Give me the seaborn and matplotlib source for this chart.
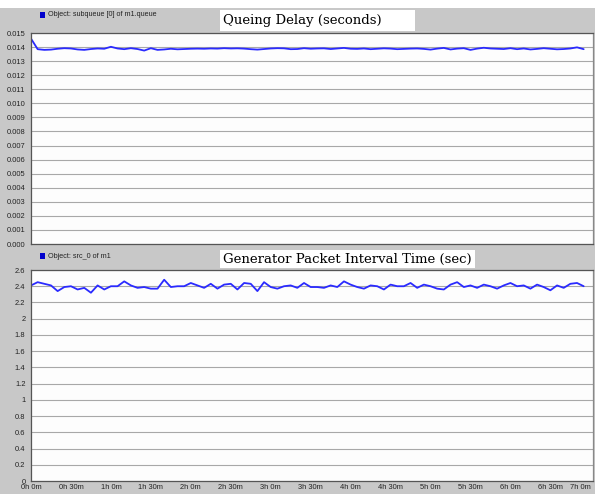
"""
plot.py
-------
Two stacked OPNET-style panels: queueing delay and generator packet
interval time over a 7-hour simulation.
"""

import numpy as np
import pandas as pd
import matplotlib
matplotlib.use("Agg")
import matplotlib.pyplot as plt
from matplotlib.patches import Rectangle
import seaborn as sns

# ── Data ──────────────────────────────────────────────────────────────── #
queue_delay = [
    0.01460, 0.01385, 0.01380, 0.01382, 0.01388, 0.01392, 0.01390, 0.01383,
    0.01380, 0.01386, 0.01390, 0.01388, 0.01402, 0.01390, 0.01385, 0.01392,
    0.01386, 0.01375, 0.01392, 0.01380, 0.01383, 0.01388, 0.01384, 0.01386,
    0.01388, 0.01389, 0.01388, 0.01390, 0.01389, 0.01392, 0.01390, 0.01391,
    0.01389, 0.01385, 0.01382, 0.01386, 0.01390, 0.01392, 0.01391, 0.01385,
    0.01386, 0.01392, 0.01388, 0.01390, 0.01391, 0.01386, 0.01390, 0.01394,
    0.01388, 0.01387, 0.01390, 0.01385, 0.01388, 0.01391, 0.01389, 0.01385,
    0.01387, 0.01389, 0.01390, 0.01387, 0.01382, 0.01389, 0.01394, 0.01383,
    0.01389, 0.01392, 0.01380, 0.01389, 0.01395, 0.01390, 0.01388, 0.01386,
    0.01392, 0.01385, 0.01390, 0.01383, 0.01387, 0.01392, 0.01388, 0.01384,
    0.01386, 0.01390, 0.01398, 0.01385,
]
packet_interval = [
    2.41, 2.45, 2.43, 2.41, 2.34, 2.39, 2.40, 2.36, 2.38, 2.32, 2.41, 2.36,
    2.40, 2.40, 2.46, 2.41, 2.38, 2.39, 2.37, 2.37, 2.48, 2.39, 2.40, 2.40,
    2.44, 2.41, 2.38, 2.43, 2.37, 2.42, 2.43, 2.36, 2.44, 2.43, 2.34, 2.45,
    2.39, 2.37, 2.40, 2.41, 2.38, 2.44, 2.39, 2.39, 2.38, 2.41, 2.39, 2.46,
    2.42, 2.39, 2.37, 2.41, 2.40, 2.36, 2.42, 2.40, 2.40, 2.44, 2.38, 2.42,
    2.40, 2.37, 2.36, 2.42, 2.45, 2.39, 2.41, 2.38, 2.42, 2.40, 2.37, 2.41,
    2.44, 2.40, 2.41, 2.37, 2.42, 2.39, 2.35, 2.41, 2.38, 2.43, 2.44, 2.40,
]
sample_step_min = 5

tick_minutes = list(range(0, 421, 30))
tick_labels = ["0h 0m", "0h 30m", "1h 0m", "1h 30m", "2h 0m", "2h 30m",
               "3h 0m", "3h 30m", "4h 0m", "4h 30m", "5h 0m", "5h 30m",
               "6h 0m", "6h 30m", "7h 0m"]

delay_ticks = [i / 1000 for i in range(16)]
interval_ticks = [round(i * 0.2, 1) for i in range(14)]

top_title = "Queing Delay (seconds)"
top_legend = "Object: subqueue [0] of m1.queue"
bot_title = "Generator Packet Interval Time (sec)"
bot_legend = "Object: src_0 of m1"

W, H = 595, 494
BG = "#c8c8c8"
LINE = "#2a2aff"
GRID = "#a8a8a8"


def px(x, y):
    """Pixel coords (top-left origin) -> figure fraction."""
    return x / W, 1 - y / H


def style_axes(ax, ylim, yticks, yfmt):
    ax.set_facecolor("#fdfdfd")
    ax.set_xlim(0, 422)
    ax.set_ylim(*ylim)
    ax.set_yticks(yticks)
    ax.set_yticklabels([yfmt(v) for v in yticks])
    ax.set_xticks(tick_minutes)
    ax.yaxis.grid(True, color=GRID, lw=0.8)
    ax.xaxis.grid(False)
    ax.set_axisbelow(True)
    ax.tick_params(axis="y", labelsize=5.4, length=3, width=0.6,
                   direction="out", pad=1, colors="#222222")
    ax.tick_params(axis="x", labelsize=5.4, length=3, width=0.6,
                   direction="inout", pad=1, colors="#222222")
    ax.set_xlabel("")
    ax.set_ylabel("")
    for s in ax.spines.values():
        s.set_color("#555555")
        s.set_linewidth(0.9)
    ax.spines["right"].set_color("#888888")


def add_header(fig, title, legend, box_x0, box_x1, box_y0, box_y1, leg_y):
    x0, y1 = px(box_x0, box_y0)
    x1, y0 = px(box_x1, box_y1)
    fig.patches.append(Rectangle((x0, y0), x1 - x0, y1 - y0,
                                 transform=fig.transFigure,
                                 facecolor="white", edgecolor="none"))
    fig.text(x0 + 3 / W, (y0 + y1) / 2, title, family="DejaVu Serif",
             fontsize=9.5, va="center", ha="left", color="black")
    sx, sy = px(40, leg_y + 3)
    fig.patches.append(Rectangle((sx, sy), 5 / W, 6 / H,
                                 transform=fig.transFigure,
                                 facecolor="#0000cc", edgecolor="none"))
    lx, ly = px(48, leg_y)
    fig.text(lx, ly, legend, fontsize=5.2, va="center", ha="left",
             color="#222222")


def main():
    sns.set_style("white")
    plt.rcParams["font.family"] = ["Liberation Sans", "DejaVu Sans"]

    df_top = pd.DataFrame({
        "minute": np.arange(len(queue_delay)) * sample_step_min,
        "delay": queue_delay,
    })
    df_bot = pd.DataFrame({
        "minute": np.arange(len(packet_interval)) * sample_step_min,
        "interval": packet_interval,
    })

    fig = plt.figure(figsize=(W / 100, H / 100), dpi=100, facecolor=BG)
    # white strip along the very top
    fig.patches.append(Rectangle((0, 1 - 8 / H), 1, 8 / H,
                                 transform=fig.transFigure,
                                 facecolor="white", edgecolor="none"))

    # ── Top panel ─────────────────────────────────────────────────────── #
    l, _ = px(31, 0)
    w = (593 - 31) / W
    ax1 = fig.add_axes([l, 1 - 244 / H, w, (244 - 33) / H])
    sns.lineplot(data=df_top, x="minute", y="delay", ax=ax1,
                 color=LINE, lw=1.3)
    style_axes(ax1, (0, 0.015), delay_ticks, lambda v: f"{v:.3f}")
    ax1.set_xticklabels([])
    add_header(fig, top_title, top_legend, 220, 415, 10, 31, 15)

    # ── Bottom panel ──────────────────────────────────────────────────── #
    ax2 = fig.add_axes([l, 1 - 481 / H, w, (481 - 270) / H])
    sns.lineplot(data=df_bot, x="minute", y="interval", ax=ax2,
                 color=LINE, lw=1.3)
    style_axes(ax2, (0, 2.6), interval_ticks, lambda v: f"{v:g}")
    ax2.set_xticklabels(tick_labels)
    # keep the last label inside the figure
    ax2.get_xticklabels()[-1].set_horizontalalignment("right")
    add_header(fig, bot_title, bot_legend, 220, 475, 250, 268, 256)

    fig.savefig("out.png", dpi=100, facecolor=BG)
    plt.close(fig)


if __name__ == "__main__":
    main()
